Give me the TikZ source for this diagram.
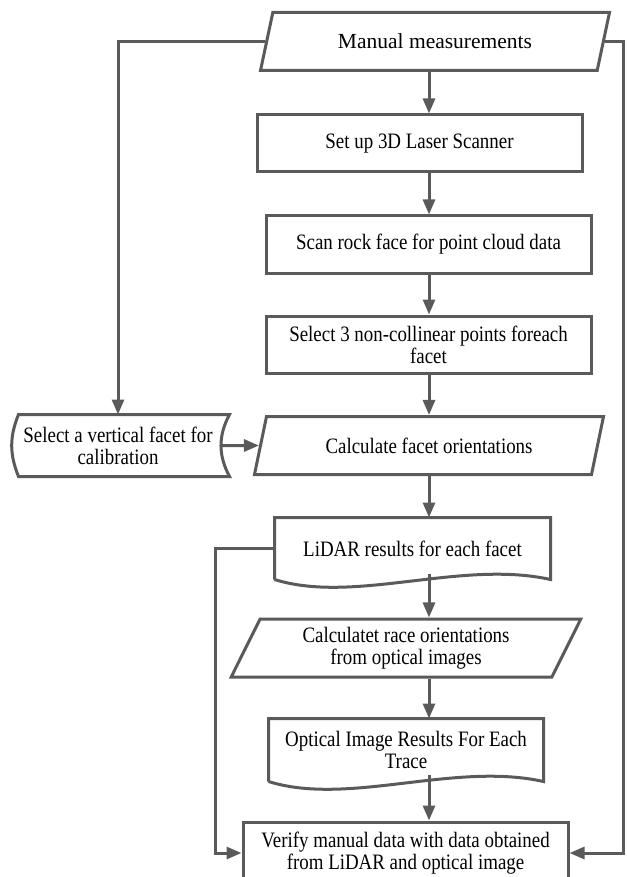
\documentclass[tikz,border=0pt]{standalone}
\usepackage{fontspec}
\setmainfont[FakeStretch=0.86]{Liberation Serif}
\newfontfamily\plainserif{Liberation Serif}
\usepackage{tikz}
\usetikzlibrary{shapes.geometric,arrows.meta,calc}
\tikzset{>={Triangle[length=15pt,width=12pt]}}
\definecolor{linegray}{HTML}{5A5A5A}

\begin{document}
\begin{tikzpicture}[x=1pt,y=-1pt,line width=3pt,color=linegray,
    every node/.style={text=black,font=\fontsize{22}{22}\selectfont,align=center,inner sep=0pt},
    procbox/.style={draw,rectangle,minimum width=325pt,minimum height=57pt},
    iobox/.style={draw,trapezium,trapezium left angle=64,trapezium right angle=116,
      trapezium stretches=true,minimum width=350pt,minimum height=58pt},
    docbox/.style={rectangle,minimum width=273pt,minimum height=59pt},
    storebox/.style={rectangle,minimum width=204pt,minimum height=59pt}]
    \useasboundingbox (0,0) rectangle (626,877);
    \coordinate (spine) at (429,0);
    \coordinate (lbus) at (215,0);
    \coordinate (rbus) at (623,0);

    \node[iobox,font=\plainserif\fontsize{21.5}{22}\selectfont] at (435,41.5) (manual) {Manual measurements};
    \node[procbox] at (419.5,143.5) (setup) {Set up 3D Laser Scanner};
    \node[procbox] at (428.5,244.5) (scan) {Scan rock face for point cloud data};
    \node[procbox] at (428.5,344.5) (select) {Select 3 non-collinear points foreach\\facet};
    \node[iobox] at (429,445.5) (calc) {Calculate facet orientations};
    \node[storebox] at (118,445.5) (cal) {Select a vertical facet for\\calibration};
    \node[docbox] at (412.5,548.5) (lidar) {LiDAR results for each facet};
    \node[iobox] at (406,648) (trace) {Calculatet race orientations\\from optical images};
    \node[docbox,minimum width=272pt,minimum height=60pt] at (406,750) (optical) {Optical Image Results For Each\\Trace};
    \node[procbox,minimum height=62pt] at (405.5,853) (verify) {Verify manual data with data obtained\\from LiDAR and optical image};

    % stored data and document outlines
    \draw ($(cal.north west)+(4,0)$) to[bend right=22] ($(cal.south west)+(4,0)$)
      -- ($(cal.south east)+(8,0)$) to[bend left=28] ($(cal.north east)+(8,0)$) -- cycle;
    \draw (lidar.south west) -- (lidar.north west) -- (lidar.north east) -- (lidar.south east)
      .. controls +(-90,-20) and +(80,25) .. (lidar.south west);
    \draw (optical.south west) -- (optical.north west) -- (optical.north east) -- (optical.south east)
      .. controls +(-90,-20) and +(80,25) .. (optical.south west);

    \draw[->] (spine |- manual.south) -- (spine |- setup.north);
    \draw[->] (spine |- setup.south) -- (spine |- scan.north);
    \draw[->] (spine |- scan.south) -- (spine |- select.north);
    \draw[->] (spine |- select.south) -- (spine |- calc.north);
    \draw[->] (spine |- calc.south) -- (spine |- lidar.north);
    \draw[->,shorten <=-6pt] (spine |- lidar.south) -- (spine |- trace.north);
    \draw[->] (spine |- trace.south) -- (spine |- optical.north);
    \draw[->,shorten <=-7pt] (spine |- optical.south) -- (spine |- verify.north);
    \draw[->] (cal.east) -- (calc.west);
    \draw[->] (manual.west) -| (cal.north);
    \draw[->] (manual.east) -- (manual.east -| rbus) |- (verify.east);
    \draw[->] (lidar.west) -- (lidar.west -| lbus) |- (verify.west);
\end{tikzpicture}
\end{document}
